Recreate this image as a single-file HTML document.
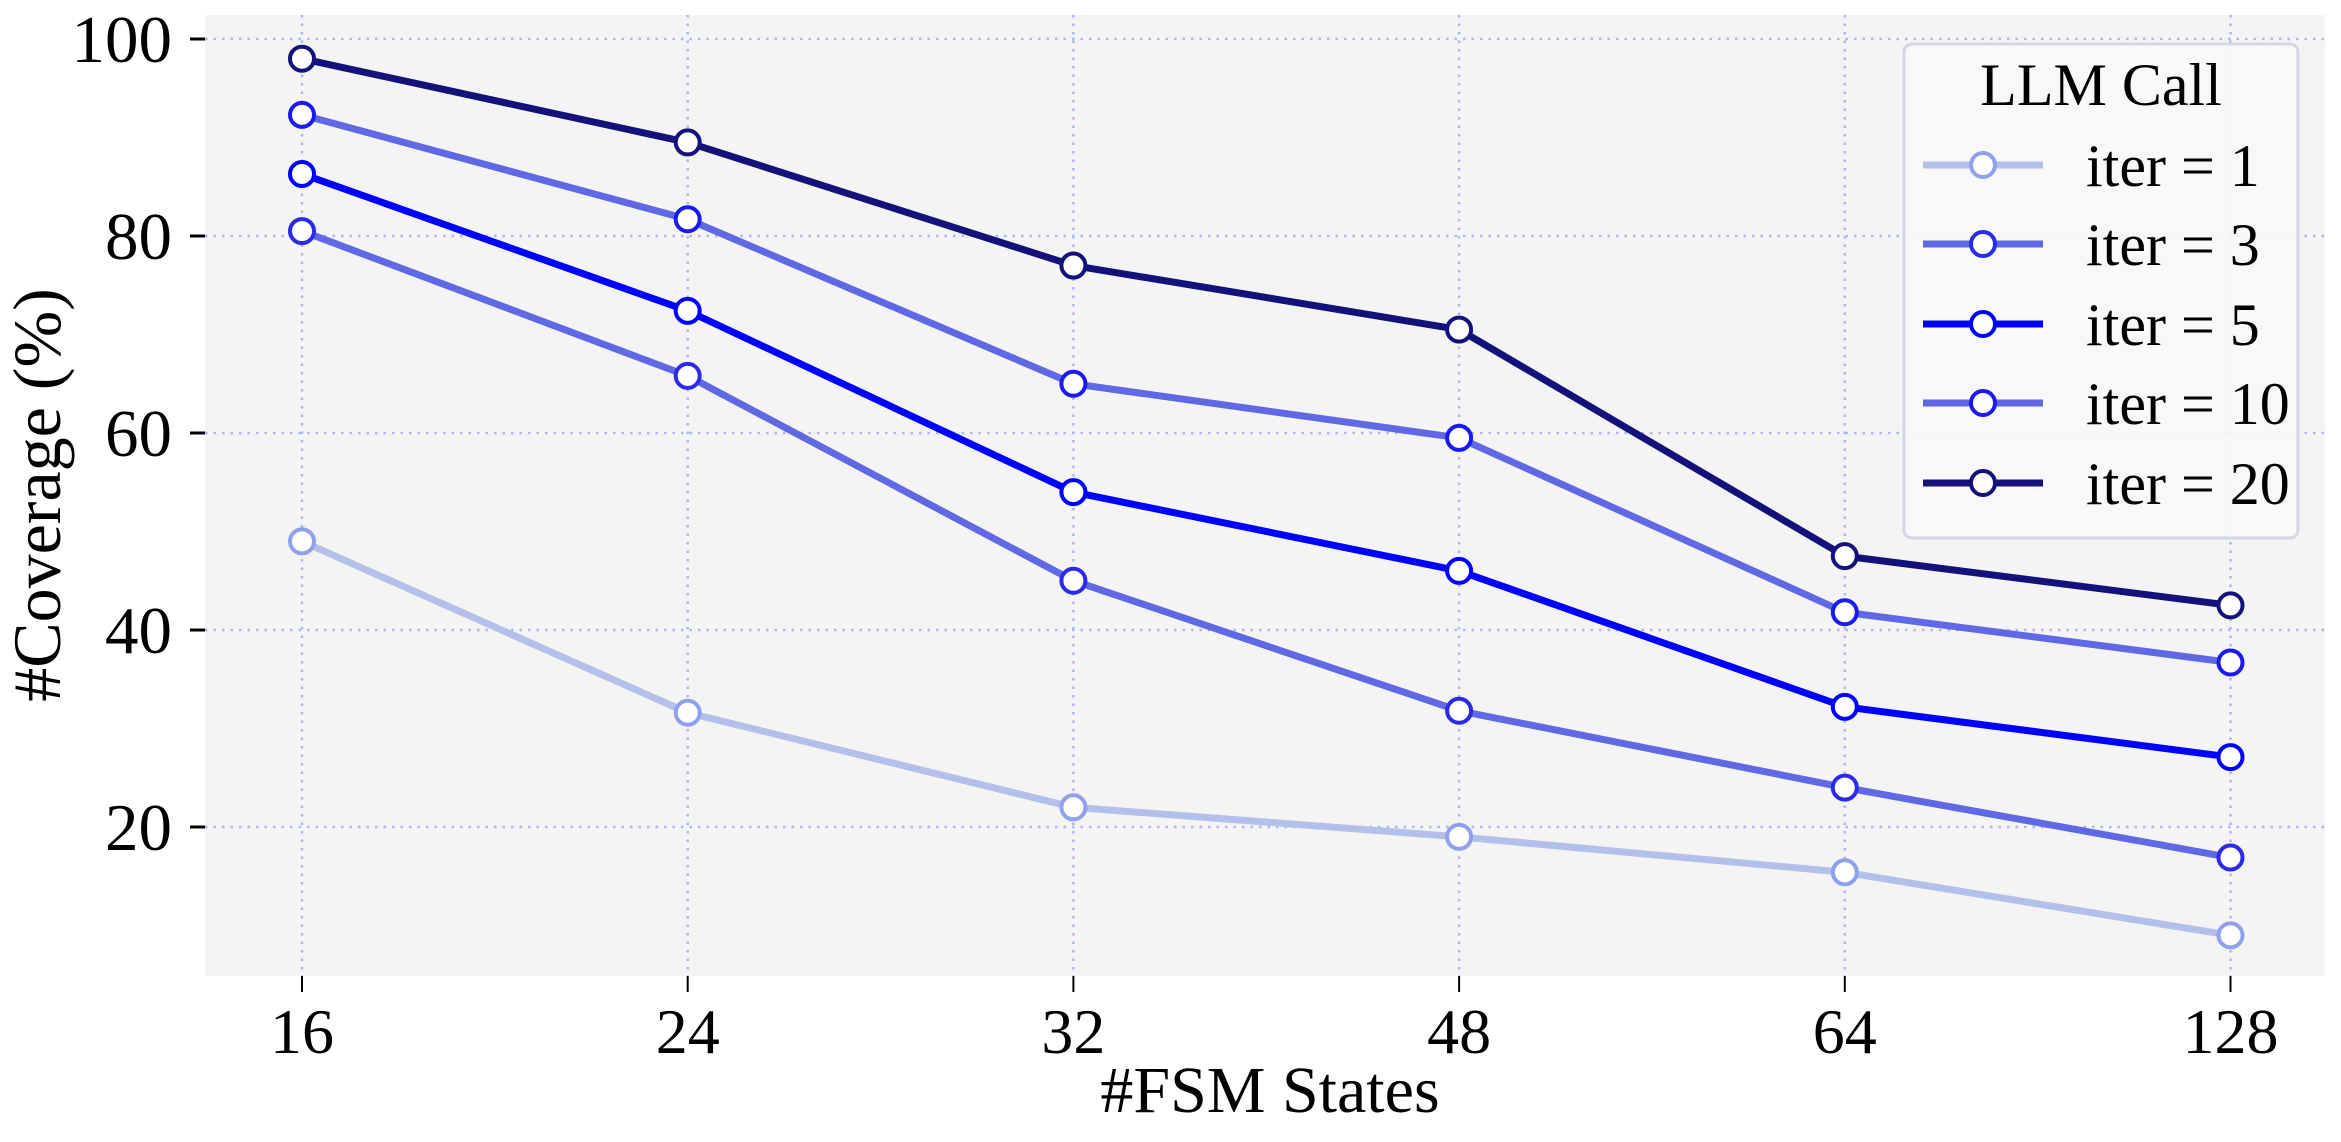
<!DOCTYPE html>
<html><head><meta charset="utf-8"><style>
html,body{margin:0;padding:0;background:#fff;}
svg{display:block;font-family:"Liberation Serif",serif;}
</style></head><body>
<svg id="chart" width="2341" height="1142" viewBox="0 0 2341 1142">
<rect x="205" y="15" width="2120" height="961" fill="#f4f4f4"/>
<g id="grid"></g><g id="axes"></g><g id="series"></g><g id="legend"></g>
<text x="1270" y="1112" font-size="66" text-anchor="middle">#FSM States</text>
<text transform="translate(60,495) rotate(-90)" font-size="68" text-anchor="middle">#Coverage (%)</text>
</svg>
<script>
const categories = ["16","24","32","48","64","128"];
const yTicks = [20,40,60,80,100];
const seriesNames = ["iter = 1","iter = 3","iter = 5","iter = 10","iter = 20"];
const iter1 = [49,31.6,22,19,15.4,9];
const iter3 = [80.5,65.8,45,31.8,24,16.9];
const iter5 = [86.3,72.4,54,46,32.2,27.1];
const iter10 = [92.3,81.7,65,59.5,41.8,36.7];
const iter20 = [98,89.5,77,70.5,47.5,42.5];
const seriesValues = [iter1,iter3,iter5,iter10,iter20];
const lineColors = ["#b3c0ea","#6068e4","#0000ff","#6068e4","#12127a"];
const edgeColors = ["#8fa0ee","#2a2ae8","#0000ff","#1a1aee","#12127a"];
const NS="http://www.w3.org/2000/svg";
const X0=302, DX=385.7, PT=15, PB=976, PL=205, PR=2325;
function xs(i){return X0+i*DX;}
function ys(v){return 39+(100-v)*(197/20);}
function mk(tag,attrs,parent){const e=document.createElementNS(NS,tag);for(const k in attrs)e.setAttribute(k,attrs[k]);parent.appendChild(e);return e;}
const grid=document.getElementById('grid'),axes=document.getElementById('axes'),ser=document.getElementById('series'),leg=document.getElementById('legend');
yTicks.forEach(t=>{
 const y=ys(t);
 const g=mk('line',{x1:PL,x2:PR,y1:y,y2:y,stroke:'#a9b8ec','stroke-width':2.5,'stroke-dasharray':'2.5 6'},grid);
 
 
 const tk=mk('line',{x1:190,x2:205,y1:y,y2:y,stroke:'#000','stroke-width':3},axes);
 
 
 const tx=mk('text',{x:172,y:y+23,'font-size':67,'text-anchor':'end'},axes);
 tx.textContent=t;
 
 
});
categories.forEach((c,i)=>{
 const x=xs(i);
 const g=mk('line',{x1:x,x2:x,y1:PT,y2:PB,stroke:'#a9b8ec','stroke-width':2.5,'stroke-dasharray':'2.5 6'},grid);
 
 
 const tk=mk('line',{x1:x,x2:x,y1:PB,y2:992,stroke:'#000','stroke-width':2},axes);
 
 
 const tx=mk('text',{x:x,y:1053,'font-size':64,'text-anchor':'middle'},axes);
 tx.textContent=c;
 
 
});
seriesValues.forEach((vals,s)=>{
 const g=mk('g',{},ser);
 
 
 const pts=vals.map((v,i)=>xs(i)+','+ys(v)).join(' ');
 const pl=mk('polyline',{points:pts,fill:'none',stroke:lineColors[s],'stroke-width':7,'stroke-linejoin':'round'},g);
 
 
 vals.forEach((v,i)=>{
  const c=mk('circle',{cx:xs(i),cy:ys(v),r:12,fill:'#fff',stroke:edgeColors[s],'stroke-width':4},g);
  
  
 });
});
const box=mk('rect',{x:1904,y:44,width:394,height:494,rx:8,fill:'#f8f8f8','fill-opacity':0.9,stroke:'#d3d6e4','stroke-width':3},leg);


const lt=mk('text',{x:2101,y:105,'font-size':60,'text-anchor':'middle'},leg);
lt.textContent='LLM Call';


const legY=[165,244,324,403,483];
seriesNames.forEach((n,s)=>{
 const g=mk('g',{},leg);
 
 
 const y=legY[s];
 mk('line',{x1:1923,x2:2043,y1:y,y2:y,stroke:lineColors[s],'stroke-width':7},g);
 mk('circle',{cx:1983,cy:y,r:12,fill:'#fff',stroke:edgeColors[s],'stroke-width':4},g);
 const t=mk('text',{x:2086,y:y+21,'font-size':60},g);
 t.textContent=n;
});
</script>
</body></html>
